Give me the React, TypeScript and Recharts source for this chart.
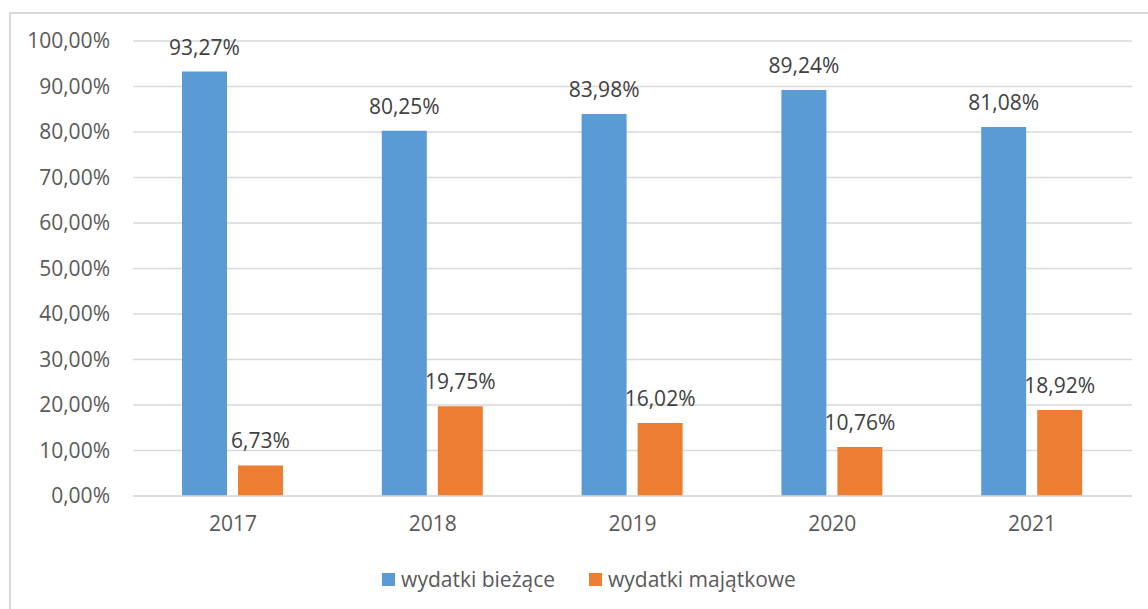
import React from "react";
import { BarChart, Bar, XAxis, YAxis, CartesianGrid, LabelList } from "recharts";

const years = ["2017", "2018", "2019", "2020", "2021"];
const biezace = [93.27, 80.25, 83.98, 89.24, 81.08];
const majatkowe = [6.73, 19.75, 16.02, 10.76, 18.92];
const yTicks = [0, 10, 20, 30, 40, 50, 60, 70, 80, 90, 100];
const seriesNames = ["wydatki bieżące", "wydatki majątkowe"];
const colors = ["#5B9BD5", "#ED7D31"];

const data = years.map((y, i) => ({ year: y, b: biezace[i], m: majatkowe[i] }));

const fmt = (v: number) => v.toFixed(2).replace(".", ",") + "%";
const FONT = "'Open Sans', sans-serif";

export default function App() {
  return (
    <div style={{ position: "absolute", left: 0, top: 0, width: 1148, height: 609, background: "#fff", overflow: "hidden" }}>
      <div style={{ position: "absolute", left: 9, top: 12, width: 1160, height: 620, border: "2px solid #d9d9d9", boxSizing: "border-box" }} />
      <div style={{ position: "absolute", left: 0, top: 0 }}>
        <BarChart width={1148} height={609} data={data} margin={{ top: 41, right: 16, bottom: 83, left: 0 }} barSize={45} barGap={11}>
          <CartesianGrid vertical={false} stroke="#d9d9d9" strokeWidth={1.5} />
          <XAxis dataKey="year" height={30} axisLine={{ stroke: "#d9d9d9", strokeWidth: 1.5 }} tickLine={false} tickSize={0} tickMargin={20}
            tick={{ fill: "#595959", fontSize: 21, fontFamily: FONT }} />
          <YAxis width={133} domain={[0, 100]} ticks={yTicks} interval={0} axisLine={false} tickLine={false} tickSize={0} tickMargin={23}
            tickFormatter={fmt} tick={{ fill: "#595959", fontSize: 21, fontFamily: FONT }} />
          <Bar dataKey="b" name={seriesNames[0]} fill={colors[0]} isAnimationActive={false}>
            <LabelList dataKey="b" position="top" offset={17} formatter={(v: any) => fmt(Number(v))}
              style={{ fill: "#404040", fontSize: 21, fontFamily: FONT }} />
          </Bar>
          <Bar dataKey="m" name={seriesNames[1]} fill={colors[1]} isAnimationActive={false}>
            <LabelList dataKey="m" position="top" offset={17} formatter={(v: any) => fmt(Number(v))}
              style={{ fill: "#404040", fontSize: 21, fontFamily: FONT }} />
          </Bar>
        </BarChart>
      </div>
      <div style={{ position: "absolute", left: 15, width: 1148, top: 564, display: "flex", justifyContent: "center", fontFamily: FONT, fontSize: 21, color: "#595959", lineHeight: "30px" }}>
        {seriesNames.map((n, i) => (
          <div key={n} style={{ display: "flex", alignItems: "center", marginRight: i === 0 ? 34 : 0 }}>
            <span style={{ display: "inline-block", width: 13, height: 13, background: colors[i], marginRight: 6 }} />
            <span>{n}</span>
          </div>
        ))}
      </div>
    </div>
  );
}
